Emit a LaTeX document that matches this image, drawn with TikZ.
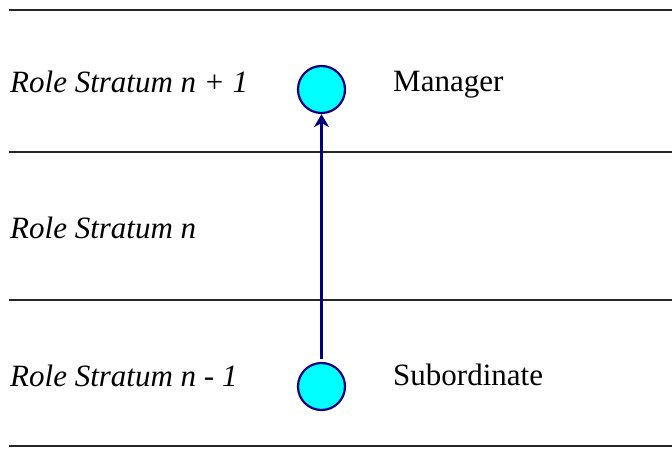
\documentclass[tikz,border=0pt]{standalone}
\usepackage{fontspec}
\setmainfont{Liberation Serif}
\usetikzlibrary{arrows.meta}
\definecolor{navyc}{RGB}{0,0,128}
\definecolor{cyanc}{RGB}{0,255,255}
\tikzset{
  stratumline/.style={line width=2pt, black!85},
  rolenode/.style={circle, draw=navyc, fill=cyanc, line width=2.2pt, minimum size=47pt, inner sep=0pt},
  leftlabel/.style={anchor=base west, inner sep=0pt, font=\fontsize{31}{36}\selectfont\itshape},
  rightlabel/.style={anchor=base west, inner sep=0pt, font=\fontsize{31}{36}\selectfont},
  link/.style={navyc, line width=2.6pt, -{Stealth[length=13pt, width=15pt, inset=4pt]}}
}
\begin{document}
\begin{tikzpicture}[x=1pt, y=1pt]
\useasboundingbox (0,0) rectangle (672,449);
% stratum separators
\coordinate (l1a) at (9,439); \coordinate (l1b) at (672,439);
\coordinate (l2a) at (9,296.5); \coordinate (l2b) at (672,296.5);
\coordinate (l3a) at (9,149); \coordinate (l3b) at (672,149);
\coordinate (l4a) at (9,2.5); \coordinate (l4b) at (672,2.5);
\draw[stratumline] (l1a) -- (l1b);
\draw[stratumline] (l2a) -- (l2b);
\draw[stratumline] (l3a) -- (l3b);
\draw[stratumline] (l4a) -- (l4b);
% labels
\node[leftlabel] (s1) at (10,356) {Role Stratum n + 1};
\node[leftlabel] (s2) at (10,210) {Role Stratum n};
\node[leftlabel] (s3) at (10,62) {Role Stratum n - 1};
\node[rightlabel] (mgr) at (393,357) {Manager};
\node[rightlabel] (sub) at (393,63) {Subordinate};
% roles
\node[rolenode] (top) at (321.5,359.5) {};
\node[rolenode] (bot) at (321.5,62.5) {};
\draw[link, shorten <=3pt] (bot.north) -- (top.south);
\end{tikzpicture}
\end{document}
